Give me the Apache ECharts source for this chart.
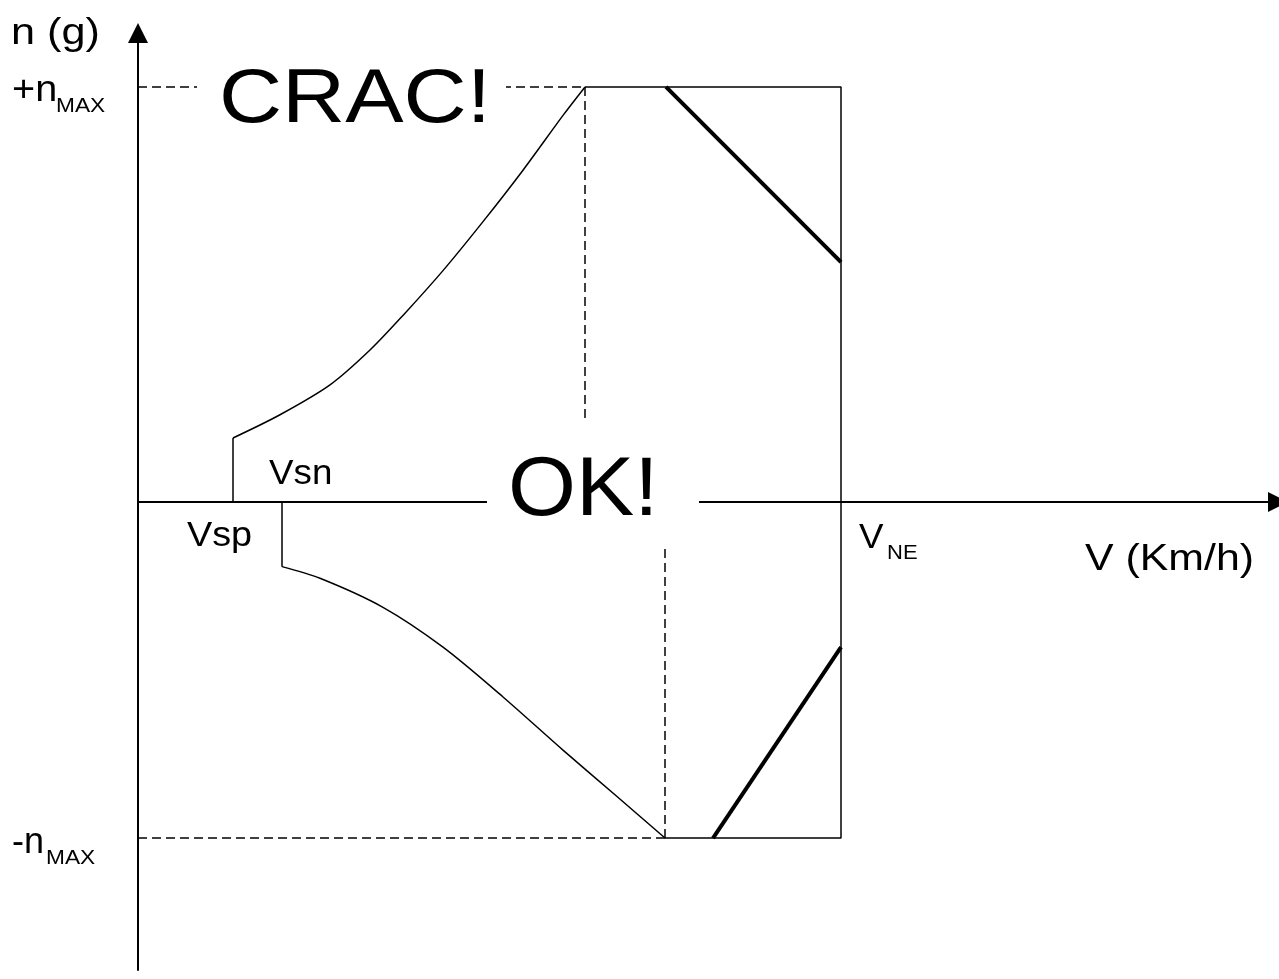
<!DOCTYPE html>
<html>
<head>
<meta charset="utf-8">
<script src="https://cdn.jsdelivr.net/npm/echarts@6/dist/echarts.min.js"></script>
<style>
  html, body { margin: 0; padding: 0; background: #fff; }
  #chart { width: 1279px; height: 979px; }
</style>
</head>
<body>
<div id="chart"></div>
<script>
// speeds (km/h)
const vStallPos = 23.75;
const vStallNeg = 36;
const vManPos = 111.75;
const vManNeg = 131.75;
const vNE = 175.75;

// load factor limits
const nPos = 5;
const nNeg = -4.05;

// positive stall curve
const vUpper = [23.75, 35.5, 48, 58, 66.3, 76.3, 86.3, 96.3, 106.3, 111.75];
const nUpper = [0.77, 1.05, 1.41, 1.83, 2.25, 2.79, 3.38, 4.0, 4.66, 5.0];

// negative stall curve
const vLower = [36, 45.5, 61.25, 76.25, 91.25, 106.25, 119.75, 131.75];
const nLower = [-0.78, -0.92, -1.27, -1.75, -2.35, -2.99, -3.55, -4.05];

// thick limit lines
const vGustUp = [132, 175.75];
const nGustUp = [5, 2.89];
const vGustDown = [143.75, 175.75];
const nGustDown = [-4.05, -1.75];

// where the dashed guides stop
const nGuideUpEnd = 0.96;
const nGuideDownEnd = -0.52;

const pairs = (xs, ys) => xs.map((x, i) => [x, ys[i]]);

function line(data, width, type, smooth) {
  return {
    type: 'line',
    data: data,
    symbol: 'none',
    smooth: smooth || false,
    silent: true,
    lineStyle: { color: '#000', width: width, type: type || 'solid' },
    z: 2
  };
}

const dash = [9, 5];
const FONT = '"Liberation Sans", Arial, sans-serif';

const chart = echarts.init(document.getElementById('chart'));

chart.setOption({
  animation: false,
  backgroundColor: '#fff',
  grid: { left: 138, right: 1, top: 33, bottom: 9, outerBoundsMode: 'none' },
  xAxis: {
    type: 'value',
    min: 0,
    max: 285,
    axisLine: {
      onZero: true,
      symbol: ['none', 'triangle'],
      symbolSize: [20, 20],
      lineStyle: { color: '#000', width: 2 }
    },
    axisTick: { show: false },
    axisLabel: { show: false },
    splitLine: { show: false }
  },
  yAxis: {
    type: 'value',
    min: -5.64,
    max: 5.65,
    axisLine: {
      show: true,
      onZero: false,
      symbol: ['none', 'triangle'],
      symbolSize: [20, 20],
      lineStyle: { color: '#000', width: 2 }
    },
    axisTick: { show: false },
    axisLabel: { show: false },
    splitLine: { show: false }
  },
  series: [
    line(pairs(vUpper, nUpper), 1.5, 'solid', 0.3),
    line(pairs(vLower, nLower), 1.5, 'solid', 0.3),
    line([[vStallPos, 0], [vStallPos, nUpper[0]]], 1.5),
    line([[vStallNeg, 0], [vStallNeg, nLower[0]]], 1.5),
    line([[vManPos, nPos], [vNE, nPos], [vNE, nNeg], [vManNeg, nNeg]], 1.5),
    line(pairs(vGustUp, nGustUp), 4),
    line(pairs(vGustDown, nGustDown), 4),
    line([[0, nPos], [vManPos, nPos]], 1.5, dash),
    line([[vManPos, nPos], [vManPos, nGuideUpEnd]], 1.5, dash),
    line([[0, nNeg], [vManNeg, nNeg]], 1.5, dash),
    line([[vManNeg, nNeg], [vManNeg, nGuideDownEnd]], 1.5, dash)
  ]
});

const px = (v, n) => chart.convertToPixel({ gridIndex: 0 }, [v, n]);
const pO = px(0, 0);
const pTop = px(0, nPos);
const pBot = px(0, nNeg);
const pSp = px(vStallPos, 0);
const pSn = px(vStallNeg, 0);
const pNE = px(vNE, 0);

function label(text, size, x, base, sx) {
  return {
    type: 'text',
    x: x,
    y: base - 0.29 * size,
    scaleX: sx,
    z: 100,
    style: {
      text: text,
      font: size + 'px ' + FONT,
      fill: '#000',
      align: 'left',
      verticalAlign: 'middle'
    }
  };
}

function mask(x, y, w, h) {
  return { type: 'rect', z: 99, shape: { x: x, y: y, width: w, height: h }, style: { fill: '#fff' } };
}

chart.setOption({
  graphic: [
    mask(197, pTop[1] - 27, 309, 72),
    mask(487, pO[1] - 57, 212, 95),
    label('n (g)', 36, 11, 45, 1.2),
    label('+n', 36, 12, pTop[1] + 15, 1.1),
    label('MAX', 21, 56, pTop[1] + 25, 1.08),
    label('-n', 36, 12, pBot[1] + 15, 1.0),
    label('MAX', 21, 46, pBot[1] + 26, 1.08),
    label('Vsp', 35, pSp[0] - 46, pO[1] + 45, 1.08),
    label('Vsn', 35, pSn[0] - 13, pO[1] - 17, 1.05),
    label('V', 35, pNE[0] + 18, pO[1] + 47, 1.05),
    label('NE', 20, pNE[0] + 46, pO[1] + 57, 1.1),
    label('V (Km/h)', 36, 1085, pO[1] + 69, 1.19),
    label('CRAC!', 76, 219, pTop[1] + 36, 1.15),
    label('OK!', 84, 508, pO[1] + 14, 1.04)
  ]
});
</script>
</body>
</html>
